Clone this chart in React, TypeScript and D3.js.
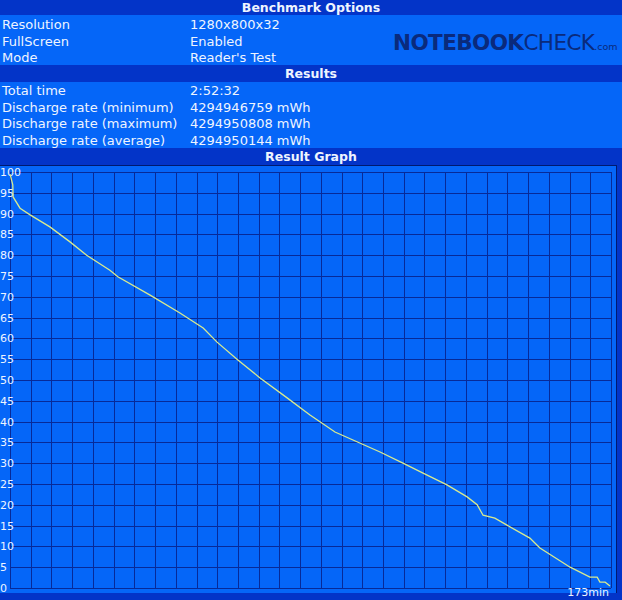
import React from "react";
import * as d3 from "d3";

const W = 622;
const H = 600;

const optionLabels = ["Resolution", "FullScreen", "Mode"];
const optionValues = ["1280x800x32", "Enabled", "Reader's Test"];
const resultLabels = ["Total time", "Discharge rate (minimum)", "Discharge rate (maximum)", "Discharge rate (average)"];
const resultValues = ["2:52:32", "4294946759 mWh", "4294950808 mWh", "4294950144 mWh"];

const yTicks = [0, 5, 10, 15, 20, 25, 30, 35, 40, 45, 50, 55, 60, 65, 70, 75, 80, 85, 90, 95, 100];
const xGridCount = 29;
const totalMinutes = 173;

const timeMin = [0, 0.3, 0.8, 0.9, 2.9, 5.8, 11.5, 17.3, 22.1, 28.8, 31.1, 40.4, 49.0, 55.7, 59.7, 65.7, 72.1, 79.9, 86.5, 93.7, 106.7, 113.3, 119.1, 126.0, 131.8, 134.7, 136.4, 139.8, 143.3, 149.9, 152.8, 161.5, 167.2, 169.3, 170.1, 171.6, 173.0];
const charge = [99.5, 98.6, 96.9, 94.0, 91.3, 89.7, 86.8, 83.2, 80.0, 76.4, 74.8, 70.4, 66.1, 62.5, 59.1, 54.8, 50.5, 45.7, 41.6, 37.5, 32.7, 30.0, 27.6, 24.8, 21.9, 20.0, 17.5, 16.8, 15.1, 12.0, 9.6, 5.0, 2.6, 2.6, 1.4, 1.4, 0.5];

const DARK = "#0334c8";
const BRIGHT = "#0566f8";
const GRID = "#072a98";
const TEXT = "#eef4ff";
const FONT = "Tahoma, 'DejaVu Sans', Verdana, sans-serif";

export default function App() {
  const plot = { left: 10, right: 611, top: 172, bottom: 588 };
  const x = d3.scaleLinear().domain([0, totalMinutes]).range([plot.left, plot.right - 1]);
  const y = d3.scaleLinear().domain([0, 100]).range([plot.bottom, plot.top]);
  const gx = d3.scaleLinear().domain([0, xGridCount]).range([plot.left, plot.right]);

  const line = d3
    .line<number>()
    .x((_, i) => x(timeMin[i]))
    .y((d) => y(d));

  const rowH = 16.5;

  return (
    <svg
      width={W}
      height={H}
      style={{ position: "absolute", left: 0, top: 0, display: "block" }}
      fontFamily={FONT}
    >
      <rect x={0} y={0} width={W} height={H} fill={DARK} />
      {/* header bands */}
      <rect x={0} y={15} width={W} height={50} fill={BRIGHT} />
      <rect x={0} y={82} width={W} height={66} fill={BRIGHT} />
      <text x={311} y={12} fill={TEXT} fontSize={12.5} fontWeight="bold" textAnchor="middle">
        Benchmark Options
      </text>
      <text x={311} y={78} fill={TEXT} fontSize={12.5} fontWeight="bold" textAnchor="middle">
        Results
      </text>
      <text x={311} y={161} fill={TEXT} fontSize={12.5} fontWeight="bold" textAnchor="middle">
        Result Graph
      </text>
      {optionLabels.map((l, i) => (
        <g key={l}>
          <text x={2} y={29 + i * rowH} fill={TEXT} fontSize={13}>
            {l}
          </text>
          <text x={190} y={29 + i * rowH} fill={TEXT} fontSize={13}>
            {optionValues[i]}
          </text>
        </g>
      ))}
      {resultLabels.map((l, i) => (
        <g key={l}>
          <text x={2} y={95 + i * rowH} fill={TEXT} fontSize={13}>
            {l}
          </text>
          <text x={190} y={95 + i * rowH} fill={TEXT} fontSize={13}>
            {resultValues[i]}
          </text>
        </g>
      ))}
      {/* logo */}
      <text x={393} y={50} fill="#0a2a7c" fontSize={21.5} fontFamily="'DejaVu Sans', Verdana, sans-serif" letterSpacing={-0.6}>
        <tspan fontWeight="bold">NOTEBOOK</tspan>
        <tspan>CHECK</tspan>
        <tspan fontSize={9.5} letterSpacing={0}>.com</tspan>
      </text>
      {/* graph frame */}
      <rect x={0} y={165} width={617} height={428} fill={BRIGHT} />
      <line x1={0} x2={617} y1={165.5} y2={165.5} stroke="#001a70" strokeWidth={1} />
      <line x1={616.5} x2={616.5} y1={165} y2={593} stroke="#001a70" strokeWidth={1} />
      {/* grid */}
      {yTicks.map((t) => (
        <line key={"h" + t} x1={plot.left} x2={plot.right} y1={Math.round(y(t)) + 0.5} y2={Math.round(y(t)) + 0.5} stroke={GRID} strokeWidth={1} />
      ))}
      {d3.range(0, xGridCount + 1).map((k) => (
        <line key={"v" + k} x1={Math.round(gx(k)) + 0.5} x2={Math.round(gx(k)) + 0.5} y1={plot.top} y2={plot.bottom} stroke={GRID} strokeWidth={1} />
      ))}
      {/* y labels */}
      {yTicks.map((t) => (
        <text key={"l" + t} x={0} y={y(t) + 4} fill={TEXT} fontSize={11}>
          {t}
        </text>
      ))}
      <text x={plot.right - 2} y={596} fill={TEXT} fontSize={11} textAnchor="end">
        {totalMinutes}min
      </text>
      {/* data line */}
      <path d={line(charge) || ""} fill="none" stroke="#d8ea90" strokeWidth={1.3} />
    </svg>
  );
}
